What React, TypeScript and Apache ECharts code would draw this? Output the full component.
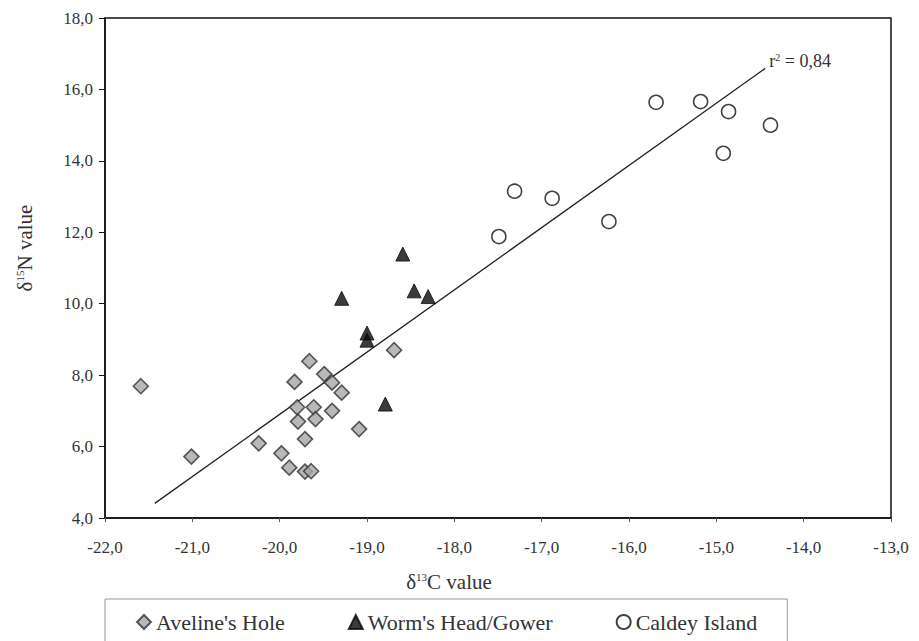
import React, { useEffect, useRef } from "react";
import * as echarts from "echarts";

const avelineX = [-21.59, -21.01, -20.24, -19.98, -19.89, -19.83, -19.8, -19.79, -19.71, -19.71, -19.64, -19.66, -19.61, -19.59, -19.49, -19.4, -19.4, -19.29, -19.09, -18.69];
const avelineY = [7.69, 5.72, 6.09, 5.81, 5.41, 7.81, 7.1, 6.7, 6.21, 5.3, 5.31, 8.39, 7.1, 6.77, 8.03, 7.79, 7.0, 7.51, 6.49, 8.7];

const wormX = [-19.29, -19.0, -19.0, -18.79, -18.59, -18.46, -18.3];
const wormY = [10.15, 9.18, 8.98, 7.19, 11.39, 10.36, 10.2];

const caldeyX = [-15.69, -15.18, -14.86, -14.38, -14.92, -17.31, -16.88, -17.49, -16.23];
const caldeyY = [15.64, 15.66, 15.38, 15.0, 14.21, 13.15, 12.95, 11.88, 12.3];

const trendX = [-21.43, -14.44];
const trendY = [4.41, 16.59];
const rSquared = "0,84";

const seriesNames = ["Aveline's Hole", "Worm's Head/Gower", "Caldey Island"];

const FONT = "Liberation Serif";

const zip = (xs: number[], ys: number[]) => xs.map((x, i) => [x, ys[i]]);
const fmt = (v: number) => "{t|" + v.toFixed(1).replace(".", ",") + "}";

export default function App() {
  const ref = useRef<HTMLDivElement>(null);
  useEffect(() => {
    if (!ref.current) return;
    const chart = echarts.init(ref.current, undefined, { renderer: "svg" });
    const titleRich = {
      a: { fontFamily: FONT, fontSize: 21, fill: "#333", color: "#333" },
      s: { fontFamily: FONT, fontSize: 11, fill: "#333", color: "#333", verticalAlign: "top", padding: [0, 0, 9, 0] },
    };
    const tickRich = { t: { fontFamily: FONT, fontSize: 17, color: "#333" } };
    chart.setOption({
      animation: false,
      backgroundColor: "#fff",
      textStyle: { fontFamily: FONT },
      grid: {
        left: 105,
        top: 18,
        right: 28,
        bottom: 123,
        show: true,
        borderColor: "#111",
        borderWidth: 1.5,
      },
      xAxis: {
        type: "value",
        min: -22,
        max: -13,
        interval: 1,
        splitLine: { show: false },
        axisLine: { onZero: false, lineStyle: { color: "#111", width: 1.5 } },
        axisTick: { show: true, inside: false, length: 4, lineStyle: { color: "#555" } },
        axisLabel: { fontFamily: FONT, fontSize: 17, color: "#333", margin: 21, formatter: fmt, rich: tickRich },
      },
      yAxis: {
        type: "value",
        min: 4,
        max: 18,
        interval: 2,
        splitLine: { show: false },
        axisLine: { onZero: false, lineStyle: { color: "#111", width: 1.5 } },
        axisTick: { show: true, inside: false, length: 6, lineStyle: { color: "#111" } },
        axisLabel: { fontFamily: FONT, fontSize: 17, color: "#333", margin: 12, formatter: fmt, rich: tickRich },
      },
      legend: {
        data: seriesNames,
        left: 105,
        top: 599,
        orient: "horizontal",
        padding: [12, 30, 20, 31],
        itemGap: 63,
        itemWidth: 14,
        itemHeight: 14,
        borderColor: "#999",
        borderWidth: 1,
        formatter: (name: string) => "{l|" + name + "}",
        textStyle: {
          fontFamily: FONT,
          fontSize: 22,
          color: "#333",
          rich: { l: { fontFamily: FONT, fontSize: 22, color: "#333" } },
        },
      },
      graphic: [
        {
          type: "text",
          x: 449,
          y: 582,
          style: {
            text: "{a|δ}{s|13}{a|C value}",
            rich: titleRich,
            align: "center",
            verticalAlign: "middle",
          },
        },
        {
          type: "text",
          x: 25,
          y: 248,
          rotation: Math.PI / 2,
          style: {
            text: "{a|δ}{s|15}{a|N value}",
            rich: titleRich,
            align: "center",
            verticalAlign: "middle",
          },
        },
      ],
      series: [
        {
          name: "trend",
          type: "line",
          data: zip(trendX, trendY),
          symbol: "none",
          lineStyle: { color: "#222", width: 1.3 },
          silent: true,
          z: 1,
          endLabel: {
            show: true,
            formatter: "{a|r}{s|2}{a| = " + rSquared + "}",
            offset: [0, -7],
            distance: 4,
            rich: {
              a: { fontFamily: FONT, fontSize: 18, color: "#333" },
              s: { fontFamily: FONT, fontSize: 10, color: "#333", verticalAlign: "top", padding: [0, 0, 8, 0] },
            },
          },
        },
        {
          name: seriesNames[0],
          type: "scatter",
          data: zip(avelineX, avelineY),
          symbol: "diamond",
          symbolSize: 15,
          itemStyle: { color: "#a6a6a6", borderColor: "#333", borderWidth: 1.6 },
          z: 3,
        },
        {
          name: seriesNames[1],
          type: "scatter",
          data: zip(wormX, wormY),
          symbol: "triangle",
          symbolSize: 14,
          itemStyle: { color: "#0a0a0a", borderColor: "#0a0a0a", borderWidth: 1 },
          z: 3,
        },
        {
          name: seriesNames[2],
          type: "scatter",
          data: zip(caldeyX, caldeyY),
          symbol: "circle",
          symbolSize: 14,
          itemStyle: { color: "#fff", borderColor: "#111", borderWidth: 1.6 },
          z: 3,
        },
      ],
    });
    return () => chart.dispose();
  }, []);
  return (
    <div
      ref={ref}
      style={{ position: "fixed", left: 0, top: 0, width: 919, height: 641 }}
    />
  );
}
